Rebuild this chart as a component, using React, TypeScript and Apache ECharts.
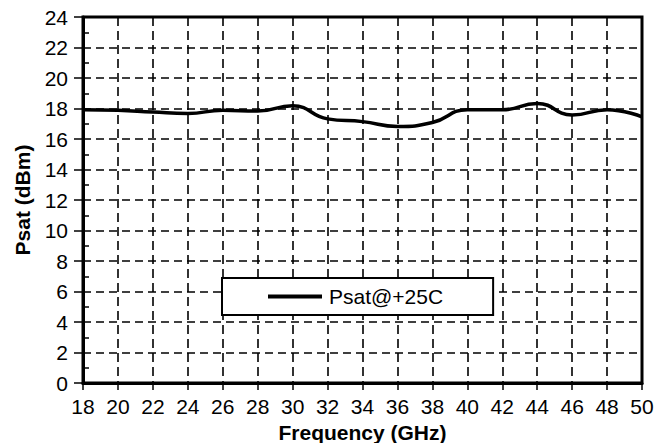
import React, { useEffect, useRef } from "react";
import * as echarts from "echarts";

const freqGHz = [18, 20, 22, 24, 26, 28, 30, 32, 34, 36, 38, 40, 42, 44, 46, 48, 50];
const psat25C = [17.92, 17.88, 17.77, 17.68, 17.88, 17.83, 18.18, 17.32, 17.14, 16.82, 17.08, 17.92, 17.92, 18.33, 17.58, 17.92, 17.45];
const seriesName = "Psat@+25C";
const xTitle = "Frequency (GHz)";
const yTitle = "Psat (dBm)";

export default function App() {
  const ref = useRef<HTMLDivElement>(null);
  useEffect(() => {
    document.body.style.margin = "0";
    if (!ref.current) return;
    const chart = echarts.init(ref.current, undefined, { renderer: "svg" });
    const font = "Arial, 'Liberation Sans', sans-serif";
    const gridRect = { left: 83, top: 17, width: 559, height: 366 };
    chart.setOption({
      animation: false,
      backgroundColor: "#fff",
      grid: [
        { ...gridRect, show: true, borderColor: "#000", borderWidth: 3, outerBoundsMode: "none", containLabel: false },
        { ...gridRect, show: false, outerBoundsMode: "none", containLabel: false },
      ],
      xAxis: [
        {
          type: "value",
          gridIndex: 0,
          min: 18,
          max: 50,
          interval: 2,
          name: xTitle,
          nameLocation: "middle",
          nameGap: 38,
          nameTextStyle: { fontFamily: font, fontWeight: "bold", fontSize: 21, color: "#000" },
          axisLine: { show: true, lineStyle: { color: "#000", width: 3 } },
          axisTick: { show: true, length: 7, lineStyle: { color: "#000", width: 1.5 } },
          axisLabel: { fontFamily: font, fontSize: 21, color: "#000", margin: 13 },
          splitLine: { show: true, lineStyle: { color: "#000", width: 1.6, type: [9, 5] } },
        },
        { type: "value", gridIndex: 1, min: 18, max: 50, show: false },
      ],
      yAxis: [
        {
          type: "value",
          gridIndex: 0,
          min: 0,
          max: 24,
          interval: 2,
          name: yTitle,
          nameLocation: "middle",
          nameGap: 50,
          nameTextStyle: { fontFamily: font, fontWeight: "bold", fontSize: 21, color: "#000" },
          axisLine: { show: true, lineStyle: { color: "#000", width: 3 } },
          axisTick: { show: true, length: 9, lineStyle: { color: "#000", width: 1.5 } },
          axisLabel: { fontFamily: font, fontSize: 21, color: "#000", margin: 15 },
          splitLine: { show: true, lineStyle: { color: "#000", width: 1.6, type: [8, 5] } },
        },
        {
          type: "value",
          gridIndex: 1,
          min: 0,
          max: 24,
          interval: 2,
          axisLine: { show: false },
          axisTick: { show: false, inside: true },
          minorTick: { show: true, splitNumber: 2, length: 6, lineStyle: { color: "#000", width: 1.5 } },
          axisLabel: { show: false },
          splitLine: { show: false },
        },
      ],
      legend: {
        show: true,
        left: 222,
        top: 278,
        orient: "horizontal",
        backgroundColor: "#fff",
        borderColor: "#000",
        borderWidth: 2,
        borderRadius: 0,
        padding: [8, 50, 8, 46],
        itemWidth: 54,
        itemHeight: 14,
        textStyle: { fontFamily: font, fontSize: 21, color: "#000", padding: [0, 0, 0, 2] },
        data: [{ name: seriesName, icon: "path://M0,6 L54,6 L54,10 L0,10 Z", itemStyle: { color: "#000" } }],
      },
      series: [
        {
          type: "line",
          name: seriesName,
          xAxisIndex: 0,
          yAxisIndex: 0,
          data: freqGHz.map((f, i) => [f, psat25C[i]]),
          smooth: 0.5,
          symbol: "none",
          lineStyle: { color: "#000", width: 3.5 },
          itemStyle: { color: "#000" },
          z: 5,
        },
      ],
    });
    return () => chart.dispose();
  }, []);
  return <div ref={ref} style={{ width: 670, height: 443 }} />;
}
